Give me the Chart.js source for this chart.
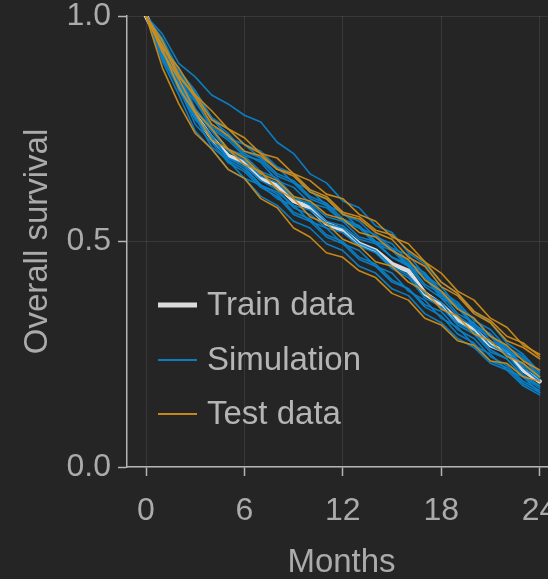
<!DOCTYPE html>
<html>
<head>
<meta charset="utf-8">
<script src="https://cdn.jsdelivr.net/npm/chart.js@4"></script>
<style>
  html, body { margin: 0; padding: 0; background: #252525; overflow: hidden; }
  #wrap { width: 570px; height: 579px; }
</style>
</head>
<body>
<div id="wrap"><canvas id="survivalChart" width="570" height="579"></canvas></div>
<script>

// months where every curve is sampled
var months = [0, 1, 2, 3, 4, 5, 6, 7, 8, 9, 10, 11, 12, 13, 14, 15, 16, 17, 18, 19, 20, 21, 22, 23, 24];

var xTicks = [0, 6, 12, 18, 24];
var yTicks = [0, 0.5, 1];

var trainData = [1.0, 0.93, 0.85, 0.78, 0.73, 0.69, 0.675, 0.64, 0.625, 0.59, 0.575, 0.54, 0.525, 0.495, 0.48, 0.45, 0.435, 0.385, 0.36, 0.325, 0.305, 0.27, 0.255, 0.215, 0.19];

var simulation1 = [1.0, 0.96, 0.895, 0.865, 0.825, 0.805, 0.78, 0.765, 0.72, 0.695, 0.65, 0.63, 0.59, 0.575, 0.535, 0.52, 0.475, 0.45, 0.41, 0.385, 0.345, 0.32, 0.275, 0.25, 0.21];
var simulation2 = [1.0, 0.935, 0.88, 0.815, 0.775, 0.73, 0.715, 0.685, 0.665, 0.63, 0.615, 0.58, 0.565, 0.53, 0.515, 0.485, 0.47, 0.425, 0.4, 0.355, 0.33, 0.29, 0.265, 0.225, 0.2];
var simulation3 = [1.0, 0.925, 0.87, 0.795, 0.75, 0.705, 0.69, 0.655, 0.64, 0.6, 0.58, 0.545, 0.535, 0.505, 0.495, 0.465, 0.45, 0.405, 0.385, 0.34, 0.32, 0.28, 0.26, 0.22, 0.19];
var simulation4 = [1.0, 0.92, 0.835, 0.775, 0.71, 0.68, 0.64, 0.625, 0.595, 0.58, 0.545, 0.53, 0.495, 0.48, 0.445, 0.43, 0.39, 0.37, 0.33, 0.31, 0.27, 0.25, 0.215, 0.2, 0.165];
var simulation5 = [1.0, 0.915, 0.855, 0.78, 0.735, 0.685, 0.67, 0.635, 0.615, 0.575, 0.56, 0.53, 0.52, 0.49, 0.475, 0.44, 0.42, 0.375, 0.355, 0.315, 0.295, 0.255, 0.24, 0.2, 0.175];
var simulation6 = [1.0, 0.9, 0.825, 0.745, 0.705, 0.66, 0.64, 0.6, 0.58, 0.545, 0.53, 0.495, 0.48, 0.445, 0.43, 0.395, 0.38, 0.34, 0.32, 0.285, 0.265, 0.23, 0.215, 0.18, 0.16];
var simulation7 = [1.0, 0.94, 0.865, 0.815, 0.75, 0.725, 0.69, 0.68, 0.645, 0.63, 0.595, 0.58, 0.545, 0.53, 0.495, 0.48, 0.445, 0.425, 0.38, 0.355, 0.315, 0.295, 0.255, 0.24, 0.205];
var simulation8 = [1.0, 0.92, 0.86, 0.79, 0.745, 0.7, 0.68, 0.645, 0.63, 0.595, 0.585, 0.555, 0.545, 0.51, 0.5, 0.465, 0.445, 0.4, 0.375, 0.335, 0.31, 0.27, 0.25, 0.205, 0.18];
var simulation9 = [1.0, 0.95, 0.88, 0.835, 0.775, 0.75, 0.715, 0.7, 0.665, 0.65, 0.61, 0.595, 0.56, 0.545, 0.51, 0.495, 0.455, 0.43, 0.385, 0.36, 0.315, 0.295, 0.26, 0.24, 0.2];
var simulation10 = [1.0, 0.905, 0.84, 0.77, 0.73, 0.685, 0.665, 0.625, 0.605, 0.565, 0.55, 0.515, 0.5, 0.465, 0.45, 0.415, 0.395, 0.355, 0.335, 0.295, 0.275, 0.235, 0.22, 0.185, 0.165];
var simulation11 = [1.0, 0.935, 0.855, 0.81, 0.755, 0.73, 0.695, 0.675, 0.635, 0.62, 0.585, 0.575, 0.545, 0.535, 0.5, 0.485, 0.45, 0.43, 0.39, 0.365, 0.325, 0.305, 0.265, 0.245, 0.21];
var simulation12 = [1.0, 0.915, 0.85, 0.775, 0.73, 0.68, 0.66, 0.625, 0.61, 0.58, 0.57, 0.54, 0.53, 0.495, 0.48, 0.445, 0.425, 0.385, 0.365, 0.32, 0.3, 0.26, 0.24, 0.2, 0.18];
var simulation13 = [1.0, 0.945, 0.875, 0.83, 0.77, 0.74, 0.7, 0.685, 0.65, 0.635, 0.6, 0.585, 0.55, 0.535, 0.5, 0.485, 0.445, 0.42, 0.375, 0.355, 0.31, 0.29, 0.25, 0.23, 0.195];
var simulation14 = [1.0, 0.91, 0.84, 0.76, 0.72, 0.675, 0.655, 0.62, 0.6, 0.56, 0.545, 0.51, 0.495, 0.46, 0.445, 0.41, 0.395, 0.36, 0.345, 0.305, 0.285, 0.245, 0.225, 0.19, 0.17];

var test1 = [1.0, 0.885, 0.805, 0.74, 0.705, 0.66, 0.64, 0.595, 0.575, 0.53, 0.51, 0.475, 0.465, 0.435, 0.42, 0.385, 0.37, 0.33, 0.315, 0.28, 0.27, 0.235, 0.23, 0.2, 0.19];
var test2 = [1.0, 0.935, 0.865, 0.825, 0.77, 0.75, 0.715, 0.695, 0.66, 0.645, 0.61, 0.595, 0.56, 0.55, 0.52, 0.505, 0.465, 0.445, 0.4, 0.38, 0.34, 0.32, 0.28, 0.265, 0.24];
var test3 = [1.0, 0.945, 0.87, 0.82, 0.76, 0.735, 0.7, 0.69, 0.66, 0.65, 0.615, 0.6, 0.565, 0.555, 0.525, 0.515, 0.48, 0.455, 0.41, 0.385, 0.345, 0.325, 0.29, 0.275, 0.245];
var test4 = [1.0, 0.92, 0.86, 0.79, 0.75, 0.705, 0.685, 0.65, 0.635, 0.6, 0.59, 0.56, 0.55, 0.52, 0.51, 0.48, 0.46, 0.415, 0.39, 0.35, 0.33, 0.29, 0.27, 0.235, 0.215];
var test5 = [1.0, 0.925, 0.84, 0.785, 0.725, 0.705, 0.67, 0.655, 0.615, 0.595, 0.555, 0.54, 0.505, 0.49, 0.455, 0.445, 0.41, 0.39, 0.35, 0.335, 0.295, 0.28, 0.245, 0.23, 0.2];
var test6 = [1.0, 0.93, 0.885, 0.825, 0.79, 0.75, 0.73, 0.695, 0.685, 0.65, 0.635, 0.605, 0.595, 0.56, 0.545, 0.51, 0.495, 0.455, 0.43, 0.39, 0.37, 0.33, 0.31, 0.27, 0.25];

var simulationList = [simulation1, simulation2, simulation3, simulation4, simulation5, simulation6, simulation7,
  simulation8, simulation9, simulation10, simulation11, simulation12, simulation13, simulation14];
var testList = [test1, test2, test3, test4, test5, test6];

var legendLabels = ["Train data", "Simulation", "Test data"];

var TRAIN_COLOR = "#dcdcdc";
var SIM_COLOR = "rgba(10, 130, 200, 0.95)";
var TEST_COLOR = "rgba(205, 140, 25, 0.95)";
var TEXT_COLOR = "#ababab";
var GRID_COLOR = "rgba(255, 255, 255, 0.09)";
var AXIS_COLOR = "#b4b4b4";
var FONT = "'Liberation Sans', Arial, sans-serif";

function toPoints(values) {
  var pts = [];
  for (var i = 0; i < values.length; i++) {
    pts.push({ x: months[i], y: values[i] });
  }
  return pts;
}

function buildDatasets() {
  var sets = [];

  for (var i = 0; i < simulationList.length; i++) {
    sets.push({
      label: legendLabels[1],
      data: toPoints(simulationList[i]),
      borderColor: SIM_COLOR,
      borderWidth: 1.6,
      order: 2
    });
  }

  sets.push({
    label: legendLabels[0],
    data: toPoints(trainData),
    borderColor: TRAIN_COLOR,
    borderWidth: 4.5,
    order: 3
  });

  for (var j = 0; j < testList.length; j++) {
    sets.push({
      label: legendLabels[2],
      data: toPoints(testList[j]),
      borderColor: TEST_COLOR,
      borderWidth: 1.6,
      order: 1
    });
  }
  return sets;
}

// legend drawn inside the plot, bottom left
var legendPlugin = {
  id: "insideLegend",
  afterDraw: function(chart) {
    var ctx = chart.ctx;
    var area = chart.chartArea;
    var rows = [
      { text: legendLabels[0], color: TRAIN_COLOR, width: 5, dy: 162 },
      { text: legendLabels[1], color: SIM_COLOR, width: 2, dy: 107 },
      { text: legendLabels[2], color: TEST_COLOR, width: 2, dy: 53 }
    ];
    ctx.save();
    ctx.font = "33px " + FONT;
    ctx.textBaseline = "middle";
    ctx.textAlign = "left";
    for (var i = 0; i < rows.length; i++) {
      var r = rows[i];
      var y = area.bottom - r.dy;
      ctx.strokeStyle = r.color;
      ctx.lineWidth = r.width;
      ctx.beginPath();
      ctx.moveTo(area.left + 31, y);
      ctx.lineTo(area.left + 70, y);
      ctx.stroke();
      ctx.fillStyle = "#b5b5b5";
      ctx.fillText(r.text, area.left + 80, y + 1);
    }
    ctx.restore();
  }
};

function printChart() {

  var ctx = document.getElementById("survivalChart").getContext("2d");
  var chart = new Chart(ctx, {
    type: "line",
    data: { datasets: buildDatasets() },
    plugins: [legendPlugin],
    options: {
      responsive: false,
      animation: false,
      events: [],
      layout: { padding: { top: 16, right: 14, left: 0, bottom: 0 } },
      elements: {
        point: { radius: 0 },
        line: { tension: 0, fill: false, borderCapStyle: "round", borderJoinStyle: "round" }
      },
      plugins: {
        legend: { display: false },
        tooltip: { enabled: false }
      },
      scales: {
        x: {
          type: "linear",
          min: -1.16,
          max: 25,
          afterBuildTicks: function(scale) {
            scale.ticks = xTicks.map(function(v) { return { value: v }; });
          },
          afterFit: function(scale) {
            scale.height = 112;
            scale.paddingLeft = 0;
            scale.paddingRight = 0;
          },
          grid: { color: GRID_COLOR, lineWidth: 1, tickColor: AXIS_COLOR, tickLength: 9, tickWidth: 1.5 },
          border: { color: AXIS_COLOR, width: 1.5 },
          ticks: {
            color: TEXT_COLOR,
            font: { family: FONT, size: 32 },
            padding: 16,
            maxRotation: 0,
            callback: function(v) { return String(v); }
          },
          title: {
            display: true,
            text: "Months",
            color: TEXT_COLOR,
            font: { family: FONT, size: 33, lineHeight: 1 },
            padding: { top: 0, bottom: 0 }
          }
        },
        y: {
          type: "linear",
          min: 0,
          max: 1,
          afterBuildTicks: function(scale) {
            scale.ticks = yTicks.map(function(v) { return { value: v }; });
          },
          afterFit: function(scale) {
            scale.width = 127;
            scale.paddingTop = 0;
            scale.paddingBottom = 0;
          },
          grid: { color: GRID_COLOR, lineWidth: 1, tickColor: AXIS_COLOR, tickLength: 9, tickWidth: 1.5 },
          border: { color: AXIS_COLOR, width: 1.5 },
          ticks: {
            color: TEXT_COLOR,
            font: { family: FONT, size: 32 },
            padding: 7,
            callback: function(v) { return v.toFixed(1); }
          },
          title: {
            display: true,
            text: "Overall survival",
            color: TEXT_COLOR,
            font: { family: FONT, size: 33 },
            padding: { top: 18, bottom: 0 }
          }
        }
      }
    }
  });
}

printChart();
</script>
</body>
</html>
